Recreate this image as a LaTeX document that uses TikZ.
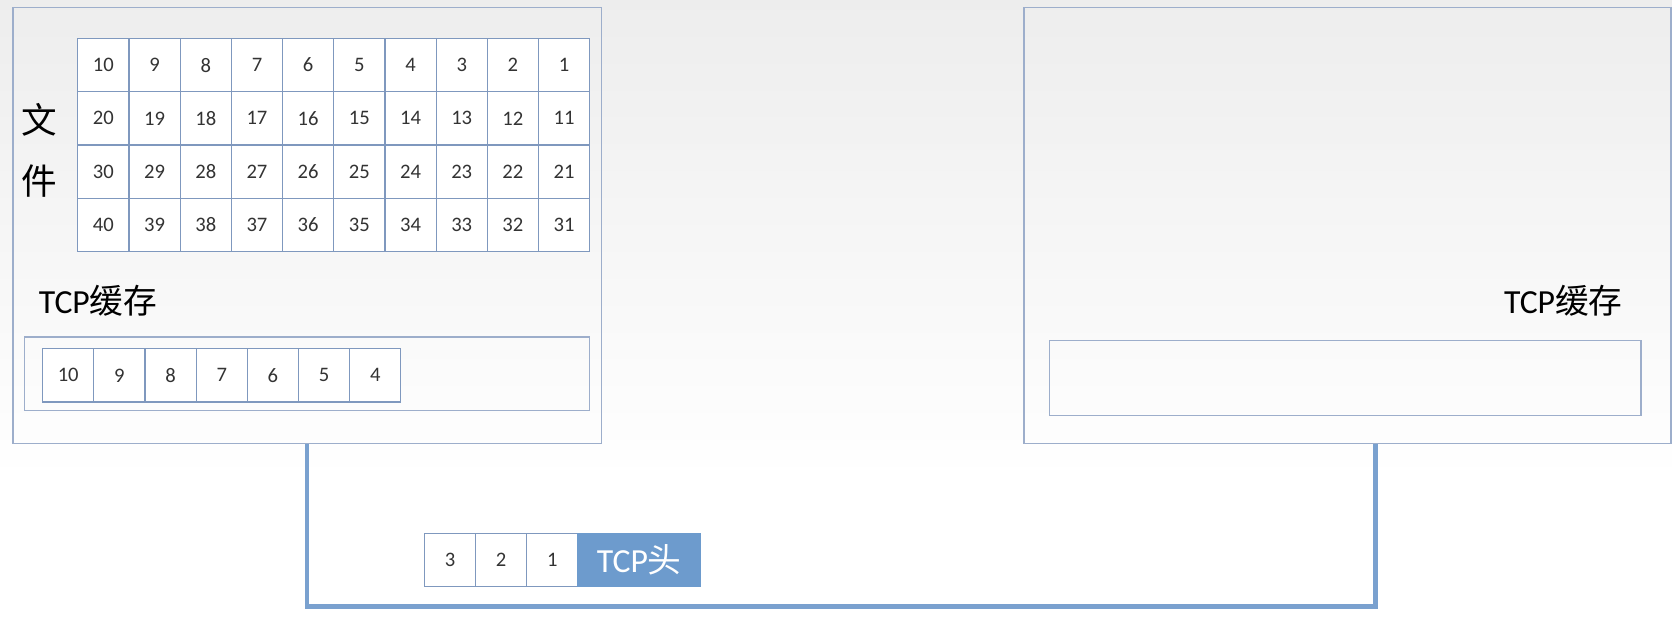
\documentclass[tikz,border=0pt]{standalone}
\usepackage{fontspec}
\setmainfont{Carlito}
\newfontfamily\cjk{Noto Sans CJK SC}
\usetikzlibrary{positioning}
\definecolor{cellline}{HTML}{7F98BE}
\definecolor{boxline}{HTML}{9DAECB}
\definecolor{wirecol}{HTML}{7AA1CF}
\definecolor{hdrfill}{HTML}{6D9BCD}
\tikzset{
  cell/.style={draw=cellline, fill=white, line width=0.6pt, minimum width=0.96cm,
    minimum height=1cm, inner sep=0pt, outer sep=0pt, text=black!80,
    font=\fontsize{11}{11}\selectfont},
  host/.style={draw=boxline, line width=0.8pt, inner sep=0pt},
  label/.style={inner sep=0pt, font=\fontsize{18}{18}\selectfont},
  wire/.style={draw=wirecol, line width=2.4pt}
}

\begin{document}
\begin{tikzpicture}[x=0.02cm, y=-0.02cm]
    \useasboundingbox (0,0) rectangle (1568,578);
    \shade[top color=black!7, bottom color=white] (0,0) rectangle (1568,450);

		% sender
		\node (hostA) [host, minimum width=11.04cm, minimum height=8.18cm] at (288,211.5) {};
		\foreach \r in {0,...,3}
		  \foreach \c in {0,...,9} {
		    \pgfmathtruncatemacro\n{10*\r+10-\c}
		    \node (f\n) [cell] at (97+48*\c, 61+50*\r) {\n};
		  }
		\node (file) [inner sep=0pt, align=center, font=\cjk\fontsize{19}{33}\selectfont] at (37,141) {文\\件};
		\node (labA) [label, anchor=west] at (36,282) {TCP{\cjk 缓存}};
		\node (bufA) [host, line width=0.6pt, minimum width=10.6cm, minimum height=1.38cm] at (288,350.5) {};
		\node (a0) [cell] at (64,352) {10};
		\node[right=0pt of a0] (a1) [cell] {9};
		\node[right=0pt of a1] (a2) [cell] {8};
		\node[right=0pt of a2] (a3) [cell] {7};
		\node[right=0pt of a3] (a4) [cell] {6};
		\node[right=0pt of a4] (a5) [cell] {5};
		\node[right=0pt of a5] (a6) [cell] {4};

		% receiver
		\node (hostB) [host, minimum width=12.14cm, minimum height=8.18cm] at (1263.5,211.5) {};
		\node (labB) [label, anchor=east] at (1522,282) {TCP{\cjk 缓存}};
		\node (bufB) [host, line width=0.6pt, minimum width=11.1cm, minimum height=1.42cm] at (1261.5,354.5) {};

		% link
		\coordinate (portB) at (1290,416);
		\draw [wire] (hostA.south) -- ++(0,152) -| (portB);

		% segment
		\node (p3) [cell] at (422,525) {3};
		\node[right=0pt of p3] (p2) [cell] {2};
		\node[right=0pt of p2] (p1) [cell] {1};
		\node[right=0pt of p1] (hdr) [cell, fill=hdrfill, draw=hdrfill, minimum width=2.3cm,
		  text=white, font=\fontsize{18}{18}\selectfont] {TCP{\cjk 头}};
	\end{tikzpicture}
\end{document}
